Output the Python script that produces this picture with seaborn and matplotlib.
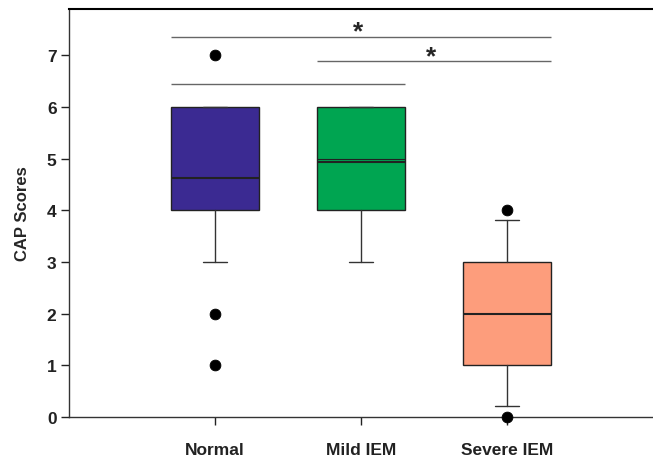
import numpy as np
import pandas as pd
import seaborn as sns
import matplotlib.pyplot as plt

# %% Values

groups      = ["Normal", "Mild IEM", "Severe IEM"]
q1          = [4.0, 4.0, 1.0]
medians     = [4.62, 4.94, 2.0]
q3          = [6.0, 6.0, 3.0]
whisk_low   = [3.0, 3.0, 0.21]
whisk_high  = [6.0, 6.0, 3.82]
box_colors  = ["#3b2a92", "#00a551", "#fd9d7c"]

# extra mean line shown inside the Mild IEM box
mean_group  = "Mild IEM"
mean_value  = 5.0

# outlier points
out_group   = ["Normal", "Normal", "Normal", "Severe IEM", "Severe IEM"]
out_value   = [7, 2, 1, 4, 0]

# significance bars: (from group, to group, height, star)
sig_from    = ["Normal", "Mild IEM", "Normal"]
sig_to      = ["Severe IEM", "Severe IEM", "Mild IEM"]
sig_y       = [7.36, 6.89, 6.45]
sig_star    = [True, True, False]

# %% Plot

sns.set_style("ticks")
plt.rcParams['font.family'] = ['Liberation Sans', 'DejaVu Sans']
plt.rcParams['font.weight'] = 'bold'

fig = plt.figure(figsize=(6.53, 4.6), dpi=100)
ax = fig.add_axes([69/653, 42/460, 1 - 69/653, 408/460])

pos = {g: i + 1 for i, g in enumerate(groups)}
half_w = 0.3

stats = []
for i, g in enumerate(groups):
    stats.append(dict(label=g, med=medians[i], q1=q1[i], q3=q3[i],
                      whislo=whisk_low[i], whishi=whisk_high[i], fliers=[]))

bp = ax.bxp(stats, positions=[1, 2, 3], widths=2*half_w, patch_artist=True,
            showfliers=False,
            boxprops=dict(linewidth=1.0, edgecolor="#222222"),
            medianprops=dict(color="#222222", linewidth=1.5),
            whiskerprops=dict(color="#333333", linewidth=1.0),
            capprops=dict(color="#333333", linewidth=1.0),
            capwidths=0.16)
for patch, c in zip(bp['boxes'], box_colors):
    patch.set_facecolor(c)

# mean line
ax.hlines(mean_value, pos[mean_group] - half_w, pos[mean_group] + half_w,
          color="#222222", linewidth=0.8)

# outliers via seaborn
df_out = pd.DataFrame({'x': [pos[g] for g in out_group], 'y': out_value})
sns.scatterplot(x='x', y='y', data=df_out, color='black', s=60,
                edgecolor='black', ax=ax, zorder=5, clip_on=False)

# significance bars
for a, b, y, star in zip(sig_from, sig_to, sig_y, sig_star):
    x0 = pos[a] - half_w
    x1 = pos[b] + half_w
    ax.hlines(y, x0, x1, color="#666666", linewidth=1.0)
    if star:
        ax.text((pos[a] + pos[b]) / 2 - 0.02, y - 0.13, "*", ha='center', va='bottom',
                fontsize=19, fontweight='bold')

ax.set_xlim(0, 4)
ax.set_ylim(0, 7.9)
ax.set_xticks([1, 2, 3])
ax.set_xticklabels(groups, fontsize=12.5, fontweight='bold')
ax.set_yticks(range(0, 8))
ax.set_yticklabels([str(v) for v in range(0, 8)], fontsize=12.5, fontweight='bold')
ax.tick_params(axis='x', length=6, width=1, pad=12, colors='#222222')
ax.tick_params(axis='y', length=6, width=1, pad=3, colors='#222222')
ax.set_xlabel("")
ax.set_ylabel("CAP Scores", fontsize=12, fontweight='bold', labelpad=12)

ax.spines['right'].set_visible(False)
ax.spines['top'].set_linewidth(1.5)
ax.spines['top'].set_color('black')
for s in ['left', 'bottom']:
    ax.spines[s].set_linewidth(1.0)
    ax.spines[s].set_color('#333333')

fig.savefig("out.png", dpi=100)
